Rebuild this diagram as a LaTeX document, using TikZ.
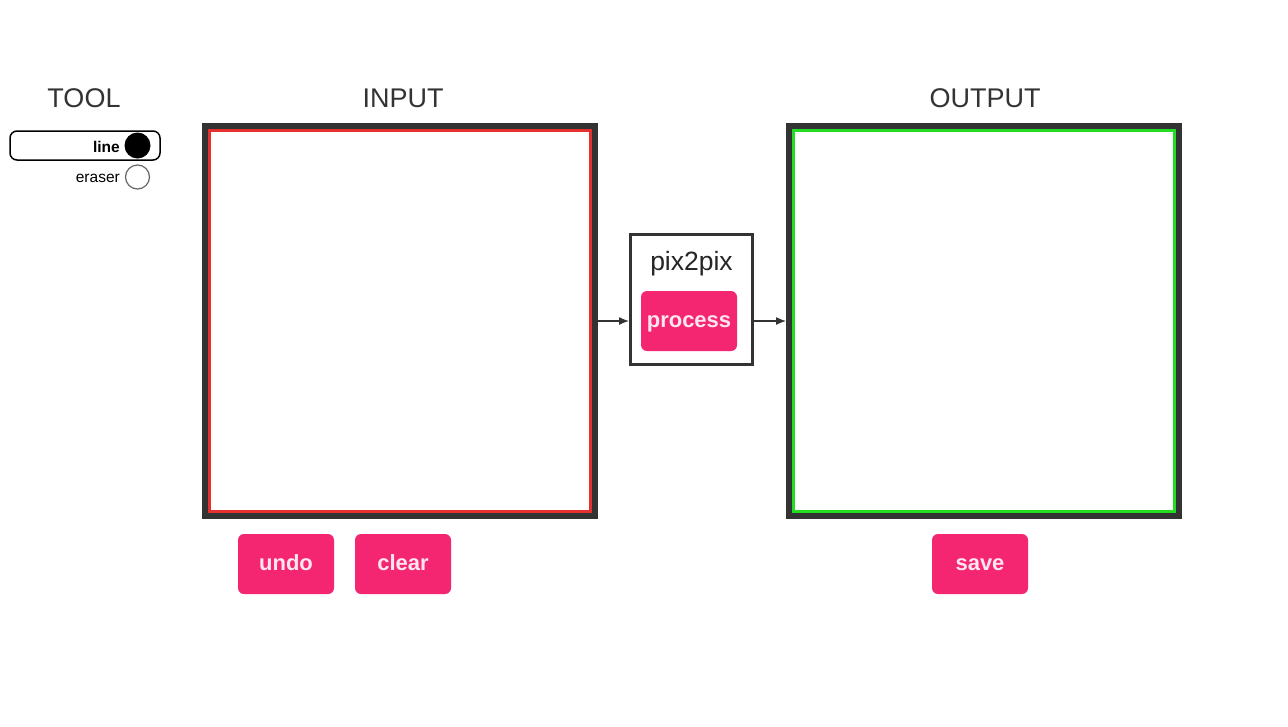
\documentclass[tikz,border=0pt]{standalone}
\usepackage{fontspec}
\setmainfont{Liberation Sans}
\usetikzlibrary{arrows.meta}
\definecolor{dark}{HTML}{333333}
\definecolor{pinkbtn}{HTML}{F42672}
\definecolor{redline}{HTML}{E53030}
\definecolor{greenline}{HTML}{22DD22}
\begin{document}
\begin{tikzpicture}[x=1pt,y=-1pt,
  frameouter/.style={draw=dark,line width=6pt,minimum width=390pt,minimum height=390pt,inner sep=0pt,fill=white},
  frameinner/.style={line width=3pt,minimum width=381pt,minimum height=381pt,inner sep=0pt},
  btn/.style={fill=pinkbtn,rounded corners=6pt,minimum width=96pt,minimum height=60pt,inner sep=0pt,text=pinkbtn!12!white,font=\fontsize{22}{24}\selectfont\bfseries,text height=16pt,text depth=3pt},
  title/.style={text=dark,font=\fontsize{27}{30}\selectfont,anchor=base,inner sep=0pt},
  arr/.style={draw=dark,line width=1.3pt,-{Latex[length=10pt,width=8pt]}},
  small/.style={font=\fontsize{15.5}{17}\selectfont,anchor=base east,inner sep=0pt}]
\useasboundingbox[fill=white] (0,0) rectangle (1288,726);
% titles
\node[title] (ttool) at (84,107) {TOOL};
\node[title] (tin) at (403,107) {INPUT};
\node[title] (tout) at (985,107) {OUTPUT};
% tool selector
\node[draw=black,line width=1.5pt,rounded corners=7pt,minimum width=150pt,minimum height=29pt,inner sep=0pt] (sel) at (85,145.5) {};
\node[small,font=\fontsize{15.5}{17}\selectfont\bfseries] (tline) at (120,152) {line};
\node[circle,fill=black,minimum size=26pt,inner sep=0pt] (cline) at (137.5,145.5) {};
\node[small] (terase) at (120,182.5) {eraser};
\node[circle,draw=black!60,line width=1.2pt,fill=white,minimum size=24pt,inner sep=0pt] (cerase) at (137.5,177) {};
% frames
\node[frameouter] (inp) at (400,321) {};
\node[frameinner,draw=redline] (inpr) at (400,321) {};
\node[frameouter] (outp) at (984,321) {};
\node[frameinner,draw=greenline] (outpr) at (984,321) {};
% pix2pix box
\node[draw=dark,line width=3pt,minimum width=122pt,minimum height=130pt,inner sep=0pt] (pix) at (691.5,299.5) {};
\node[text=black!85,font=\fontsize{26.5}{29}\selectfont,anchor=base,inner sep=0pt] (tpix) at (691.5,270) {pix2pix};
\node[btn] (proc) at (689,321) {process};
% arrows
\draw[arr] (proc -| inp.east) -- (proc -| pix.west);
\draw[arr] (proc -| pix.east) -- (proc -| outp.west);
% buttons
\node[btn] (undo) at (286,564) {undo};
\node[btn] (clear) at (403,564) {clear};
\node[btn] (save) at (980,564) {save};
\end{tikzpicture}
\end{document}
